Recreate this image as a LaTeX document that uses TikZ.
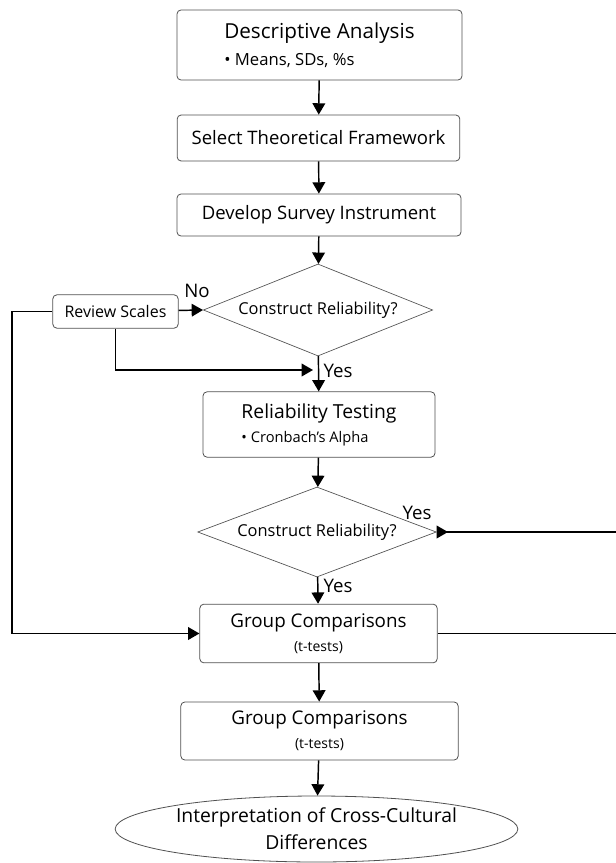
\documentclass[tikz,border=0pt]{standalone}
\usepackage{fontspec}
\setmainfont{Open Sans}
\usetikzlibrary{shapes.geometric}
\usetikzlibrary{arrows.meta}
\definecolor{box-gray}{RGB}{80, 80, 80}

\begin{document}
\begin{tikzpicture}[x=0.75pt, y=-0.75pt,
        box/.style={draw=box-gray, rounded corners=3pt, line width=0.6pt, inner sep=0pt},
        decision/.style={diamond, aspect=2.5, draw=box-gray, line width=0.5pt, inner sep=0pt, align=center, font=\fontsize{12.3}{14}\selectfont},
        arr/.style={-{Triangle[width=9.5pt, length=8.5pt]}, line width=1.1pt},
        lbl/.style={inner sep=1pt, font=\fontsize{14}{16}\selectfont}]
            \useasboundingbox (0, 0) rectangle (616, 863);
            % main column
            \node[box, minimum width=213.75pt, minimum height=52.5pt, align=left, font=\fontsize{15.5}{20}\selectfont] (descr) at (319.5, 45)
                {Descriptive Analysis\\ {\fontsize{12.5}{14}\selectfont \textbullet\ Means, SDs, \%s}};
            \node[box, minimum width=212pt, minimum height=34.5pt, font=\fontsize{13.9}{16}\selectfont] (frame) at (318.5, 138) {Select Theoretical Framework};
            \node[box, minimum width=213pt, minimum height=31.5pt, font=\fontsize{13.9}{16}\selectfont] (survey) at (319, 215) {Develop Survey Instrument};
            \node[decision, minimum width=172pt, minimum height=69pt] (check1) at (318, 310) {Construct Reliability?};
            \node[box, minimum width=94pt, minimum height=25pt, font=\fontsize{12}{14}\selectfont] (review) at (115.5, 311.5) {Review Scales};
            \node[box, minimum width=174pt, minimum height=49pt, align=left, font=\fontsize{14.5}{18}\selectfont] (reliab) at (319, 424.5)
                {Reliability Testing\\ {\fontsize{11}{13}\selectfont \textbullet\ Cronbach's Alpha}};
            \node[decision, minimum width=179pt, minimum height=67.5pt] (check2) at (317, 532) {Construct Reliability?};
            \node[box, minimum width=178pt, minimum height=44pt, align=center, font=\fontsize{14.1}{18}\selectfont] (groupa) at (318.5, 633.5)
                {Group Comparisons\\ {\fontsize{10.5}{13}\selectfont (t-tests)}};
            \node[box, minimum width=208pt, minimum height=43.5pt, align=center, font=\fontsize{14.1}{18}\selectfont] (groupb) at (319.5, 731)
                {Group Comparisons\\ {\fontsize{10.5}{13}\selectfont (t-tests)}};
            \node[ellipse, draw=box-gray, line width=0.6pt, inner sep=0pt, minimum width=302pt, minimum height=49.5pt, align=center,
                font=\fontsize{14.5}{20}\selectfont] (interp) at (316.5, 829) {Interpretation of Cross-Cultural\\Differences};
            % free ends
            \coordinate (leftrun) at (12, 311.5);
            \coordinate (back) at (313, 370);
            \coordinate (rightA) at (616, 532);
            \coordinate (rightB) at (616, 633.5);
            % arrows
            \draw[arr] (descr) -- (frame);
            \draw[arr] (frame) -- (survey);
            \draw[arr] (survey) -- (check1);
            \draw[arr] (check1) -- (reliab);
            \draw[arr] (reliab) -- (check2);
            \draw[arr] (check2) -- (groupa);
            \draw[arr] (groupa) -- (groupb);
            \draw[arr] (groupb) -- (interp);
            \draw[arr] (review) -- (check1.west);
            \draw[arr] (review.south) |- (back);
            \draw[arr] (review.west) -- (leftrun) |- (groupa.west);
            \draw[line width=1.1pt, {Triangle[reversed, width=9.5pt, length=8.5pt]}-] (check2.east) -- (rightA);
            \draw[line width=1.1pt] (groupa.east) -- (rightB);
            % labels
            \node[lbl] (no1) at (197, 291) {No};
            \node[lbl, anchor=west] (yes1) at (322, 371) {Yes};
            \node[lbl] (yes2) at (417, 513) {Yes};
            \node[lbl, anchor=west] (yes3) at (322, 586) {Yes};
        \end{tikzpicture}
\end{document}
